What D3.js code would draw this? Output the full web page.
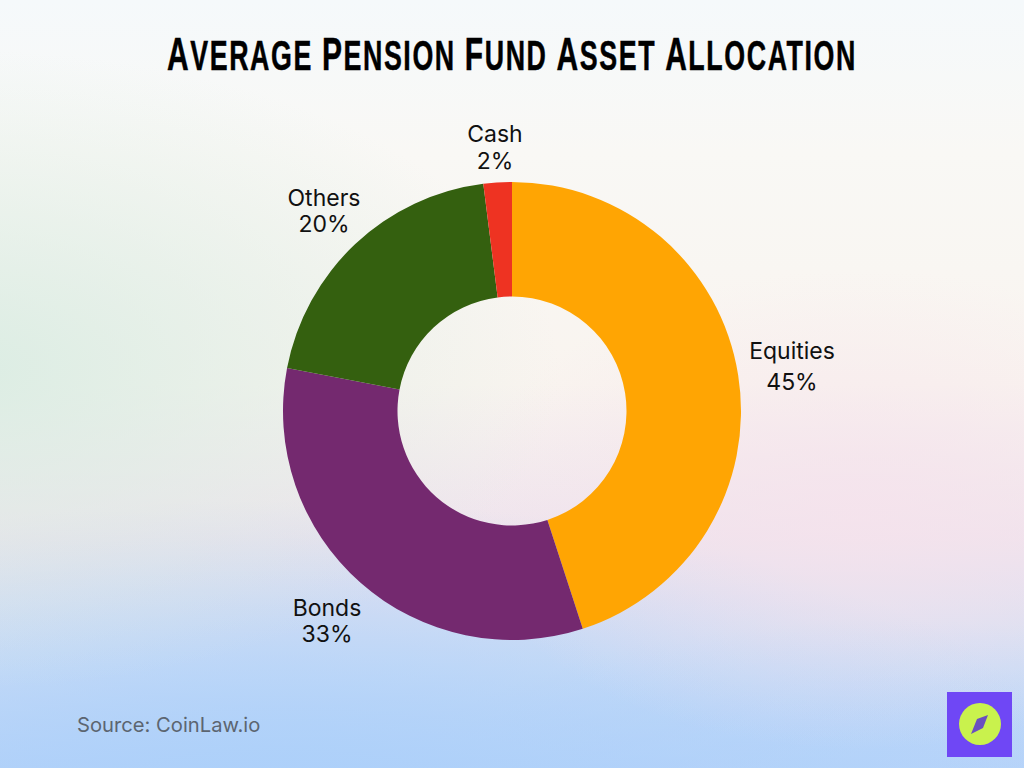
<!DOCTYPE html>
<html><head><meta charset="utf-8">
<script src="https://cdn.jsdelivr.net/npm/d3@7"></script>
<style>
html,body{margin:0;padding:0;width:1024px;height:768px;overflow:hidden}
body{background:
 radial-gradient(ellipse 600px 320px at -40px 370px, rgba(216,236,226,.9), rgba(216,236,226,0)),
 radial-gradient(ellipse 400px 240px at 860px 510px, rgba(246,226,236,.75), rgba(246,226,236,0)),
 radial-gradient(ellipse 800px 300px at 280px 800px, rgba(172,208,250,1), rgba(172,208,250,0)),
 radial-gradient(ellipse 500px 170px at 900px 790px, rgba(182,212,250,.85), rgba(182,212,250,0)),
 linear-gradient(180deg,#f5f9fb 0%,#f9f8f5 20%,#f9f4ef 50%,#eee3ed 70%,#cfdef5 87%,#b8d3f8 100%);}
svg{position:absolute;left:0;top:0}
</style></head><body>
<svg id="c" width="1024" height="768"></svg>
<script>
const categories=["Equities","Bonds","Others","Cash"];
const values=[45,33,20,2];
const colors=["#FFA503","#74296F","#34600F","#EE3322"];
const titleWords=["Average","Pension","Fund","Asset","Allocation"];
const sourceText="Source: CoinLaw.io";
const labelPos=[[792,351,382],[327,608,634],[324,198,224],[495,134,161]];

const svg=d3.select("#c");
const cx=512,cy=411,R=229,r=114.5;
const pie=d3.pie().sort(null).value(d=>d.v);
const arc=d3.arc().innerRadius(r).outerRadius(R);
const data=pie(categories.map((c,i)=>({c,v:values[i],col:colors[i]})));
const g=svg.append("g").attr("transform",`translate(${cx},${cy})`);
g.selectAll("path").data(data).join("path").attr("d",arc).attr("fill",d=>d.data.col);

const t=svg.append("text").attr("y",0)
 .attr("font-family","'Liberation Sans',sans-serif")
 .attr("font-weight","700").attr("fill","#000").attr("stroke","#000").attr("stroke-width",.5)
 .attr("style","letter-spacing:2.5px;white-space:pre");
titleWords.forEach((w,i)=>{
 t.append("tspan").attr("font-size",47).text(w[0]);
 t.append("tspan").attr("font-size",42).attr("style","text-transform:uppercase").text(w.slice(1)+(i<titleWords.length-1?" ":""));
});
const tw=t.node().getComputedTextLength();
const sx=690/tw;
t.attr("transform",`translate(${512-345},69.5) scale(${sx},1)`);

data.forEach((d,i)=>{
 const [x,y1,y2]=labelPos[i];
 const a=svg.append("g").attr("font-family","Inter, sans-serif").attr("font-size",23)
  .attr("fill","#111").attr("text-anchor","middle");
 a.append("text").attr("x",x).attr("y",y1+8).text(d.data.c);
 a.append("text").attr("x",x).attr("y",y2+8).text(d.data.v+"%");
});

svg.append("text").attr("x",77).attr("y",732).attr("font-family","Inter, sans-serif")
 .attr("font-size",20.2).attr("fill","#5c6570").text(sourceText);

const lg=svg.append("g");
lg.append("rect").attr("x",947).attr("y",692).attr("width",65).attr("height",65).attr("fill","#6f47f5");
lg.append("circle").attr("cx",980).attr("cy",724).attr("r",21).attr("fill","#c9f24d");
lg.append("path").attr("d","M988,715 L983,728 L971,734 L977,719 Z").attr("fill","#6a4fc0");
</script></body></html>
